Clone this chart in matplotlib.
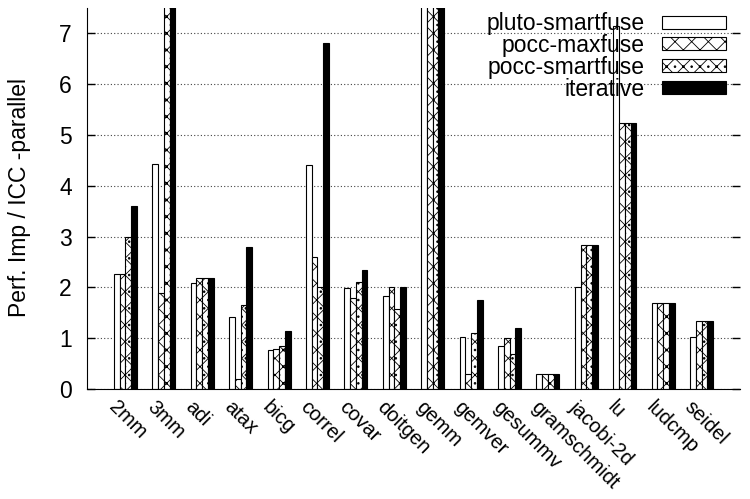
import numpy as np
import matplotlib
matplotlib.use("Agg")
import matplotlib.pyplot as plt
from matplotlib.transforms import ScaledTranslation

plt.rcParams["font.family"] = ["Liberation Sans", "DejaVu Sans"]
plt.rcParams["hatch.linewidth"] = 0.6

categories = ["2mm", "3mm", "adi", "atax", "bicg", "correl", "covar", "doitgen",
              "gemm", "gemver", "gesummv", "gramschmidt", "jacobi-2d", "lu",
              "ludcmp", "seidel"]
# values above 7.5 are cut off by the y range in the original
pluto_smartfuse = [2.26, 4.42, 2.08, 1.41, 0.76, 4.40, 1.98, 1.83, 8.0, 1.03,
                   0.84, 0.30, 2.00, 7.15, 1.70, 1.02]
pocc_maxfuse = [2.26, 1.89, 2.18, 0.20, 0.78, 2.60, 1.80, 2.00, 8.0, 0.30,
                1.00, 0.30, 2.83, 5.24, 1.70, 1.33]
pocc_smartfuse = [2.99, 8.0, 2.18, 1.65, 0.85, 2.00, 2.10, 1.57, 8.0, 1.11,
                  0.68, 0.30, 2.83, 5.24, 1.70, 1.33]
iterative = [3.60, 8.0, 2.18, 2.79, 1.15, 6.82, 2.34, 2.00, 8.0, 1.75,
             1.21, 0.30, 2.83, 5.24, 1.70, 1.33]

series = [
    ("pluto-smartfuse", pluto_smartfuse, "white", ""),
    ("pocc-maxfuse", pocc_maxfuse, "white", "xx"),
    ("pocc-smartfuse", pocc_smartfuse, "white", "xx.."),
    ("iterative", iterative, "black", ""),
]
FS = 16.5

fig = plt.figure(figsize=(7.5, 4.99), dpi=100)
ax = fig.add_axes([0.116, 0.2204, 0.8707, 0.7636])

x = np.arange(len(categories))
w = 0.15
for i, (name, vals, color, hatch) in enumerate(series):
    ax.bar(x + (i - 1.5) * w, vals, w, color=color, edgecolor="black",
           hatch=hatch, linewidth=0.8, label=name, zorder=2)

ax.set_xlim(-1, len(categories))
ax.set_ylim(0, 7.5)
ax.set_yticks(range(0, 8))
ax.set_xticks(x)
ax.set_xticklabels(categories, rotation=-45, ha="left", va="center",
                   rotation_mode="anchor", fontsize=14.5)
ax.tick_params(axis="x", length=0, pad=11)
ax.tick_params(axis="y", direction="in", length=6, width=1, labelsize=FS,
               pad=11, right=True)
shift = ScaledTranslation(-14 / 100, 0, fig.dpi_scale_trans)
for lbl in ax.get_xticklabels():
    lbl.set_transform(lbl.get_transform() + shift)

ax.spines["top"].set_visible(False)
ax.spines["right"].set_visible(False)
ax.yaxis.grid(True, linestyle=(0, (1, 2)), color="#444444", linewidth=0.8)
ax.set_axisbelow(True)

fig.text(20 / 750, 0.605, "Perf. Imp / ICC -parallel", rotation=90,
         ha="center", va="center", fontsize=FS)

ax.legend(loc="upper right", bbox_to_anchor=(1.0, 1.025), frameon=False,
          markerfirst=False, fontsize=FS, handlelength=2.8, handleheight=0.5,
          labelspacing=-0.05, handletextpad=0.75, borderaxespad=0.2)

fig.savefig("out.png", dpi=100)
